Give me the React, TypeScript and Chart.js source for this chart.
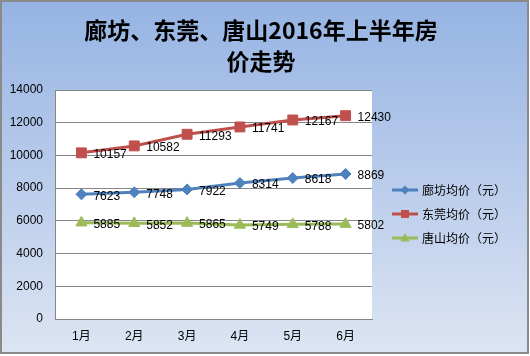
import React, { useEffect, useRef } from 'react';
import { Chart, registerables } from 'chart.js';

Chart.register(...registerables);

const categories = ['1月', '2月', '3月', '4月', '5月', '6月'];
const langfang = [7623, 7748, 7922, 8314, 8618, 8869];
const dongguan = [10157, 10582, 11293, 11741, 12167, 12430];
const tangshan = [5885, 5852, 5865, 5749, 5788, 5802];
const seriesNames = ['廊坊均价（元）', '东莞均价（元）', '唐山均价（元）'];
const titleLines = ['廊坊、东莞、唐山2016年上半年房', '价走势'];
const yMax = 14000;
const yStep = 2000;

const colors = ['#4f81bd', '#c0504d', '#9bbb59'];
const pointStyles = ['rectRot', 'rect', 'triangle'];
const LATIN = '"Liberation Sans", "Noto Sans CJK SC", sans-serif';
const CJK = '"Noto Sans CJK SC", sans-serif';

function drawMarker(ctx: CanvasRenderingContext2D, style: string, x: number, y: number, r: number, color: string) {
  ctx.save();
  ctx.fillStyle = color;
  ctx.beginPath();
  if (style === 'rectRot') {
    ctx.moveTo(x, y - r);
    ctx.lineTo(x + r, y);
    ctx.lineTo(x, y + r);
    ctx.lineTo(x - r, y);
  } else if (style === 'rect') {
    ctx.rect(x - r, y - r, 2 * r, 2 * r);
  } else {
    ctx.moveTo(x, y - r);
    ctx.lineTo(x + r * 0.95, y + r * 0.7);
    ctx.lineTo(x - r * 0.95, y + r * 0.7);
  }
  ctx.closePath();
  ctx.fill();
  ctx.restore();
}

const decorPlugin = {
  id: 'decor',
  beforeDraw(chart: any) {
    const ctx = chart.ctx as CanvasRenderingContext2D;
    const W = chart.width;
    const H = chart.height;
    ctx.save();
    ctx.fillStyle = '#ffffff';
    ctx.fillRect(0, 0, W, H);
    const g = ctx.createLinearGradient(0, 0, 0, H);
    g.addColorStop(0, '#95b3e3');
    g.addColorStop(1, '#dde5f3');
    ctx.fillStyle = g;
    ctx.fillRect(1, 1, 527, 352);
    ctx.strokeStyle = '#8a8a8a';
    ctx.lineWidth = 2;
    ctx.strokeRect(1, 1, 527, 352);
    const a = chart.chartArea;
    ctx.fillStyle = '#ffffff';
    ctx.fillRect(a.left, a.top, a.right - a.left, a.bottom - a.top);
    // title
    ctx.fillStyle = '#000000';
    ctx.font = 'bold 23px ' + CJK;
    ctx.textAlign = 'center';
    ctx.textBaseline = 'middle';
    ctx.fillText(titleLines[0], 261, 30);
    ctx.fillText(titleLines[1], 261, 61);
    ctx.restore();
  },
  afterDatasetsDraw(chart: any) {
    const ctx = chart.ctx as CanvasRenderingContext2D;
    ctx.save();
    ctx.fillStyle = '#000000';
    ctx.font = '12px ' + LATIN;
    ctx.textAlign = 'left';
    ctx.textBaseline = 'middle';
    chart.data.datasets.forEach((ds: any, i: number) => {
      const meta = chart.getDatasetMeta(i);
      meta.data.forEach((pt: any, j: number) => {
        ctx.fillText(String(ds.data[j]), pt.x + 12, pt.y + 2);
      });
    });
    ctx.restore();
  },
  afterDraw(chart: any) {
    const ctx = chart.ctx as CanvasRenderingContext2D;
    ctx.save();
    const ys = [190, 214, 238];
    const rs = [4.5, 4, 5];
    seriesNames.forEach((name, i) => {
      const y = ys[i];
      ctx.strokeStyle = colors[i];
      ctx.lineWidth = 3;
      ctx.beginPath();
      ctx.moveTo(392, y);
      ctx.lineTo(418, y);
      ctx.stroke();
      drawMarker(ctx, pointStyles[i], 405, y, rs[i], colors[i]);
      ctx.fillStyle = '#000000';
      ctx.font = '12px ' + CJK;
      ctx.textAlign = 'left';
      ctx.textBaseline = 'middle';
      ctx.fillText(name, 422, y);
    });
    ctx.restore();
  },
};

export default function App() {
  const ref = useRef<HTMLCanvasElement | null>(null);
  useEffect(() => {
    if (!ref.current) return;
    const seriesData = [langfang, dongguan, tangshan];
    const radii = [5.5, 7, 6.4];
    const chart = new Chart(ref.current, {
      type: 'line',
      data: {
        labels: categories,
        datasets: seriesData.map((d, i) => ({
          label: seriesNames[i],
          data: d,
          borderColor: colors[i],
          backgroundColor: colors[i],
          borderWidth: 3,
          tension: 0,
          pointStyle: pointStyles[i] as any,
          pointRadius: radii[i],
          pointBorderWidth: 1,
          pointBorderColor: colors[i],
          pointBackgroundColor: colors[i],
          fill: false,
        })),
      },
      options: {
        responsive: false,
        animation: false,
        devicePixelRatio: 1,
        layout: { padding: { left: 10, top: 90, right: 158, bottom: 0 } },
        plugins: {
          legend: { display: false },
          title: { display: false },
          tooltip: { enabled: false },
        },
        scales: {
          x: {
            type: 'category',
            offset: true,
            grid: { display: false, drawTicks: false, offset: true },
            border: { display: true, color: '#868686', width: 1 },
            ticks: { color: '#000000', font: { size: 12, family: LATIN }, padding: 10 },
            afterFit: (s: any) => { s.height = 37; },
          },
          y: {
            min: 0,
            max: yMax,
            ticks: {
              stepSize: yStep,
              color: '#000000',
              font: { size: 12, family: LATIN },
              padding: 12,
              callback: (v: any) => String(v),
            },
            grid: { color: '#868686', drawTicks: false, lineWidth: 1 },
            border: { display: true, color: '#868686', width: 1 },
            afterFit: (s: any) => { s.width = 45; },
          },
        },
      },
      plugins: [decorPlugin],
    });
    return () => chart.destroy();
  }, []);
  return (
    <div style={{ position: 'absolute', left: 0, top: 0, width: 530, height: 356 }}>
      <canvas ref={ref} width={530} height={356} style={{ display: 'block' }} />
    </div>
  );
}
